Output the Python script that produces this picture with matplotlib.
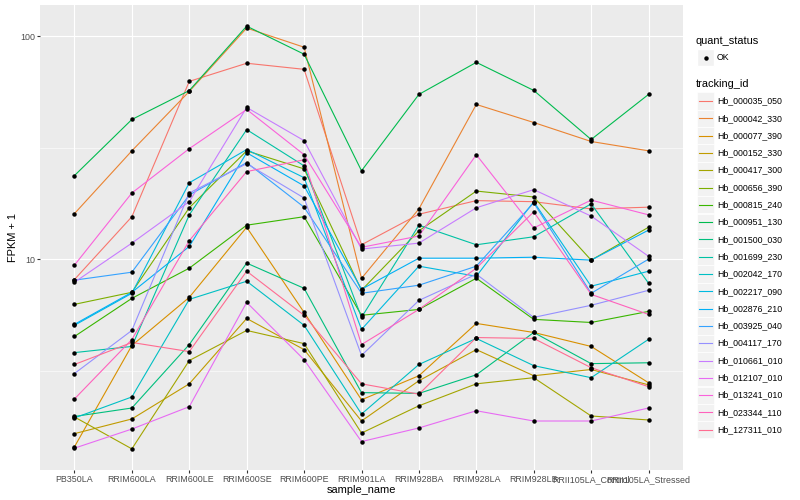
import matplotlib
matplotlib.use("Agg")
import matplotlib.pyplot as plt
import numpy as np
from matplotlib.lines import Line2D
from matplotlib.patches import Rectangle
from matplotlib.ticker import FixedLocator, NullFormatter

plt.rcParams["font.family"] = ["Liberation Sans", "DejaVu Sans"]

# Samples on the x axis.
samples = ["PB350LA", "RRIM600LA", "RRIM600LE", "RRIM600SE", "RRIM600PE",
           "RRIM901LA", "RRIM928BA", "RRIM928LA", "RRIM928LB",
           "RRII105LA_Control", "RRII105LA_Stressed"]

tracking_ids = ["Hb_000035_050", "Hb_000042_330", "Hb_000077_390", "Hb_000152_330",
                "Hb_000417_300", "Hb_000656_390", "Hb_000815_240", "Hb_000951_130",
                "Hb_001500_030", "Hb_001699_230", "Hb_002042_170", "Hb_002217_090",
                "Hb_002876_210", "Hb_003925_040", "Hb_004117_170", "Hb_010661_010",
                "Hb_012107_010", "Hb_013241_010", "Hb_023344_110", "Hb_127311_010"]

# ggplot hue palette, one colour per tracking_id.
colors = ["#F8766D", "#EA8331", "#D89000", "#C09B00", "#A3A500", "#7CAE00",
          "#39B600", "#00BB4E", "#00BF7D", "#00C1A3", "#00BFC4", "#00BAE0",
          "#00B0F6", "#35A2FF", "#9590FF", "#C77CFF", "#E76BF3", "#FA62DB",
          "#FF62BC", "#FF6C91"]

# FPKM + 1 per tracking_id, in sample order.
hb_000035_050 = [8.1, 15.5, 62.7, 75.6, 71.0, 11.6, 15.9, 18.3, 18.1, 16.8, 17.1]
hb_000042_330 = [16.0, 30.6, 56.5, 108.7, 89.2, 8.2, 16.8, 49.4, 41.0, 33.7, 30.6]
hb_000077_390 = [1.44, 4.10, 6.74, 13.9, 5.77, 2.34, 3.00, 5.15, 4.69, 4.06, 2.79]
hb_000152_330 = [1.65, 1.92, 2.76, 5.42, 3.93, 1.88, 2.85, 3.93, 3.00, 3.20, 2.73]
hb_000417_300 = [1.96, 1.41, 3.51, 4.79, 4.18, 1.66, 2.20, 2.76, 2.94, 1.98, 1.90]
hb_000656_390 = [6.27, 7.10, 17.0, 30.6, 25.4, 7.25, 13.4, 20.2, 19.0, 9.9, 13.9]
hb_000815_240 = [4.50, 6.67, 9.11, 14.2, 15.5, 5.60, 5.95, 8.21, 5.37, 5.20, 5.83]
hb_000951_130 = [23.7, 42.3, 57.0, 110.9, 83.0, 24.9, 54.8, 76.3, 57.1, 34.4, 54.8]
hb_001500_030 = [1.97, 2.15, 4.14, 9.60, 7.40, 2.52, 2.50, 3.03, 4.69, 3.40, 3.43]
hb_001699_230 = [3.81, 4.06, 15.8, 38.1, 26.2, 5.48, 14.2, 11.6, 12.6, 17.7, 7.80]
hb_002042_170 = [1.94, 2.41, 6.60, 7.96, 5.05, 2.02, 3.37, 4.41, 3.33, 2.94, 4.37]
hb_002217_090 = [5.05, 7.03, 22.0, 31.0, 23.2, 4.84, 9.30, 8.38, 18.1, 7.56, 8.83]
hb_002876_210 = [5.10, 7.10, 11.4, 30.0, 21.3, 7.33, 10.1, 10.1, 10.2, 9.9, 13.5]
hb_003925_040 = [8.05, 8.74, 19.4, 27.1, 17.1, 7.03, 7.64, 9.30, 17.9, 7.03, 10.0]
hb_004117_170 = [3.07, 4.79, 19.8, 26.8, 18.8, 3.70, 6.53, 8.56, 5.48, 6.21, 7.25]
hb_010661_010 = [7.88, 11.8, 18.1, 47.9, 34.0, 11.1, 11.8, 17.0, 20.5, 15.6, 10.3]
hb_012107_010 = [1.42, 1.73, 2.18, 6.40, 3.54, 1.52, 1.75, 2.09, 1.88, 1.88, 2.15]
hb_013241_010 = [9.40, 19.8, 31.3, 46.9, 29.4, 11.3, 12.7, 29.4, 13.8, 18.4, 15.8]
hb_023344_110 = [2.36, 4.36, 12.1, 24.7, 27.9, 4.14, 5.95, 9.11, 16.3, 6.95, 5.65]
hb_127311_010 = [3.37, 4.23, 3.85, 8.83, 5.60, 2.76, 2.48, 4.45, 4.41, 3.26, 2.68]

series = [hb_000035_050, hb_000042_330, hb_000077_390, hb_000152_330, hb_000417_300,
          hb_000656_390, hb_000815_240, hb_000951_130, hb_001500_030, hb_001699_230,
          hb_002042_170, hb_002217_090, hb_002876_210, hb_003925_040, hb_004117_170,
          hb_010661_010, hb_012107_010, hb_013241_010, hb_023344_110, hb_127311_010]

W, H = 800, 500
fig = plt.figure(figsize=(W / 100, H / 100), dpi=100)
# Panel placed like the ggplot panel (pixels: left 40, right 683, top 5, bottom 470).
ax = fig.add_axes([40 / W, 1 - 470 / H, 643 / W, 465 / H])
ax.set_facecolor("#EBEBEB")
for sp in ax.spines.values():
    sp.set_visible(False)

x = np.arange(len(samples))
for vals, col in zip(series, colors):
    ax.plot(x, vals, color=col, lw=0.8, zorder=2)
for vals in series:
    ax.plot(x, vals, "o", color="black", ms=2.2, zorder=3)

# Log scale with ggplot style 5% expansion.
ax.set_yscale("log")
allv = np.log10(np.concatenate(series))
lo, hi = allv.min(), allv.max()
pad = 0.05 * (hi - lo)
ax.set_ylim(10 ** (lo - pad), 10 ** (hi + pad))
ax.set_xlim(-0.6, len(samples) - 0.4)

ax.set_yticks([10, 100])
ax.set_yticklabels(["10", "100"])
ax.yaxis.set_minor_locator(FixedLocator([10 ** 0.5, 10 ** 1.5]))
ax.yaxis.set_minor_formatter(NullFormatter())
ax.set_xticks(x)
ax.set_xticklabels(samples)
ax.tick_params(which="minor", length=0)
ax.tick_params(which="major", length=2, width=0.8, color="#333333",
               labelsize=6.4, labelcolor="#4D4D4D", pad=1.5)
ax.set_axisbelow(True)
ax.grid(which="major", color="white", lw=0.8)
ax.grid(which="minor", axis="y", color="white", lw=0.4)

ax.set_xlabel("sample_name", fontsize=7.9, labelpad=1)
ax.set_ylabel("FPKM + 1", fontsize=7.9, labelpad=1.5)


def fx(px):
    return px / W


def fy(py):
    return 1 - py / H


# Legend, drawn like ggplot's guide boxes.
fig.text(fx(696), fy(41), "quant_status", fontsize=7.9, va="center")
fig.patches.append(Rectangle((fx(697), fy(66)), 17 / W, 17 / H, facecolor="#F2F2F2",
                             edgecolor="white", transform=fig.transFigure))
fig.lines.append(Line2D([fx(705.5)], [fy(57.5)], marker="o", ms=2.2, color="black",
                        transform=fig.transFigure))
fig.text(fx(717), fy(57.5), "OK", fontsize=6.3, va="center")

fig.text(fx(696), fy(84), "tracking_id", fontsize=7.9, va="center")
for i, (name, col) in enumerate(zip(tracking_ids, colors)):
    yc = 101 + 17.3 * i
    fig.patches.append(Rectangle((fx(697), fy(yc + 8.6)), 17 / W, 17.2 / H,
                                 facecolor="#F2F2F2", edgecolor="white", lw=0.5,
                                 transform=fig.transFigure))
    fig.lines.append(Line2D([fx(699), fx(712)], [fy(yc), fy(yc)], color=col, lw=0.8,
                            transform=fig.transFigure))
    fig.text(fx(717), fy(yc), name, fontsize=6.3, va="center")

fig.savefig("out.png", dpi=100)
